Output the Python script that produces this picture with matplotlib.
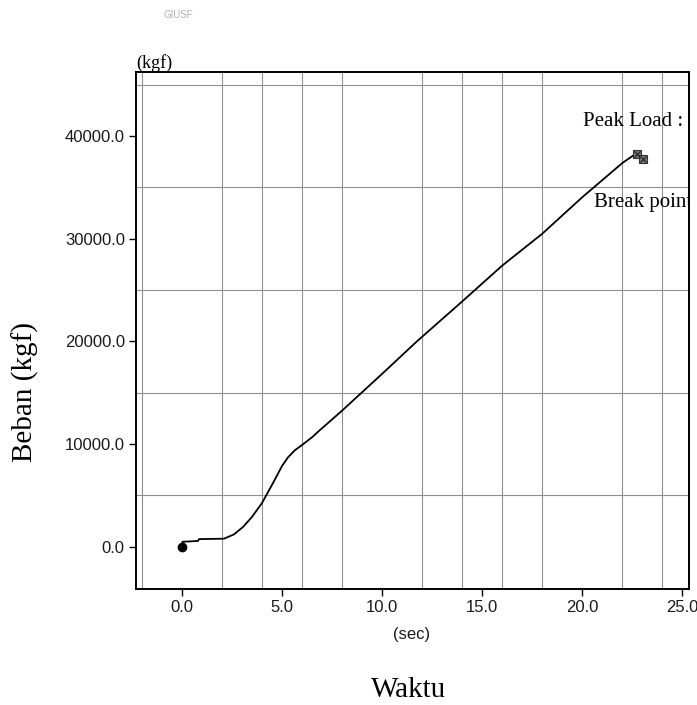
import numpy as np
import matplotlib
matplotlib.use("Agg")
import matplotlib.pyplot as plt

# load-time record of the tensile test
time_sec = [0, 0.02, 0.8, 0.85, 2.1, 2.6, 3.05, 3.5, 4.0, 4.55, 5.0, 5.3, 5.65, 6.0,
            6.5, 6.9, 8.0, 10.0, 11.75, 14.0, 16.0, 18.0, 20.0, 22.0, 22.6, 22.75]
load_kgf = [0, 480, 560, 740, 780, 1200, 1920, 2900, 4250, 6200, 7850, 8700, 9400, 9900,
            10650, 11360, 13240, 16820, 20000, 23860, 27350, 30450, 34000, 37330, 38140, 38240]

start_point = (0.0, 0.0)
peak_point = (22.75, 38240)
break_point = (23.05, 37740)

x_ticks = [0, 5, 10, 15, 20, 25]
y_ticks = [0, 10000, 20000, 30000, 40000]
x_grid = np.arange(-2, 25, 2)
y_grid = np.arange(0, 45001, 5000)

serif = "Liberation Serif"
sans = "Liberation Sans"

fig = plt.figure(figsize=(6.97, 7.05), dpi=100)
ax = fig.add_axes([0.1951, 0.1645, 0.7934, 0.7334])

ax.plot(time_sec, load_kgf, color="black", lw=1.3, zorder=3)
ax.plot(*start_point, "o", color="black", ms=6, zorder=4)
for px, py in (peak_point, break_point):
    ax.plot(px, py, "s", ms=6, mfc="#777777", mec="#333333", mew=0.8, zorder=4)
    ax.plot(px, py, "x", ms=5, color="#222222", mew=0.8, zorder=5)

ax.set_xlim(-2.3, 25.35)
ax.set_ylim(-4120, 46220)

ax.set_xticks(x_ticks)
ax.set_yticks(y_ticks)
ax.set_xticks(x_grid, minor=True)
ax.set_yticks(y_grid, minor=True)
ax.set_xticklabels([f"{v:.1f}" for v in x_ticks], fontfamily=sans, fontsize=12, color="#1a1a1a")
ax.set_yticklabels([f"{v:.1f}" for v in y_ticks], fontfamily=sans, fontsize=12, color="#1a1a1a")
ax.tick_params(which="major", direction="out", length=5, width=1, pad=3)
ax.tick_params(which="minor", length=0)
ax.grid(which="minor", color="#909090", lw=0.8)
ax.grid(which="major", visible=False)
for sp in ax.spines.values():
    sp.set_linewidth(1.4)
    sp.set_color("black")

ax.text(20.05, 41000, "Peak Load :", fontfamily=serif, fontsize=15, clip_on=True)
ax.text(20.6, 33080, "Break point", fontfamily=serif, fontsize=15, clip_on=True)
ax.text(0.0, 1.0, "(kgf)", transform=ax.transAxes, ha="left", va="bottom",
        fontfamily=serif, fontsize=13)

fig.text(412 / 697, 1 - 635 / 705, "(sec)", ha="center", va="center",
         fontfamily=sans, fontsize=12, color="#1a1a1a")
fig.text(409 / 697, 1 - 690 / 705, "Waktu", ha="center", va="center",
         fontfamily=serif, fontsize=21)
fig.text(25 / 697, 1 - 392 / 705, "Beban (kgf)", ha="center", va="center",
         rotation=90, fontfamily=serif, fontsize=21)
fig.text(178 / 697, 1 - 15 / 705, "GIUSF", ha="center", va="center",
         fontfamily=sans, fontsize=7, color="#b0b0b0")

fig.savefig("out.png", dpi=100)
